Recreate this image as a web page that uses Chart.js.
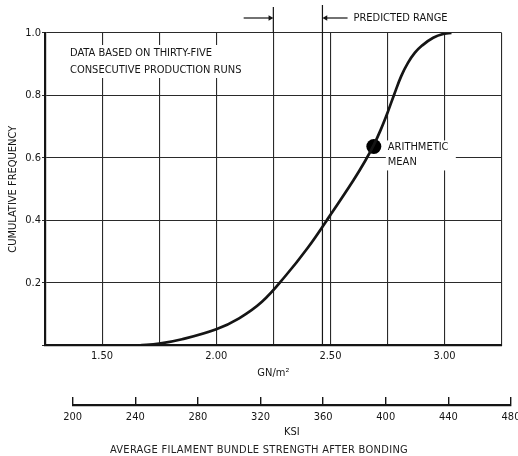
<!DOCTYPE html>
<html lang="en">
<head>
<meta charset="UTF-8">
<title>Filament bundle strength after bonding</title>
<script src="https://cdn.jsdelivr.net/npm/chart.js"></script>
<style>
  html, body { margin: 0; padding: 0; background: #fff; overflow: hidden; }
  body { width: 518px; height: 456px; position: relative; }
  #mainChart { position: absolute; left: 0; top: 0; }
  #ksiChart { position: absolute; left: 0; top: 380px; }
  #caption {
    position: absolute; left: 0; top: 443px; width: 518px; text-align: center;
    font: 11px 'Liberation Sans Narrow', 'DejaVu Sans Condensed', 'Arial Narrow', sans-serif;
    color: #222; line-height: 13px; letter-spacing: 0.3px;
  }
</style>
</head>
<body>

<canvas id="mainChart" width="518" height="385"></canvas>
<canvas id="ksiChart" width="540" height="76"></canvas>
<div id="caption">AVERAGE FILAMENT BUNDLE STRENGTH AFTER BONDING</div>

<script>
const FONT = "'Liberation Sans Narrow', 'DejaVu Sans Condensed', 'Arial Narrow', sans-serif";
const INK = "#151515";

// curve (GN/m^2 vs cumulative frequency)
const strength = [1.66, 1.75, 1.85, 2.00, 2.10, 2.20, 2.30, 2.40, 2.50, 2.60, 2.65, 2.69, 2.72, 2.75, 2.78, 2.81, 2.84, 2.87, 2.90, 2.95, 3.00, 3.03];
const cumFreq  = [0.000, 0.006, 0.020, 0.052, 0.087, 0.140, 0.220, 0.312, 0.418, 0.528, 0.588, 0.642, 0.690, 0.745, 0.805, 0.862, 0.905, 0.937, 0.959, 0.985, 0.998, 1.000];

const meanStrength = 2.69;
const meanFreq = 0.637;

const rangeLow = 2.25;
const rangeHigh = 2.465;

const gnTicks = [1.50, 2.00, 2.50, 3.00];
const freqTicks = [0.2, 0.4, 0.6, 0.8, 1.0];
const ksiTicks = [200, 240, 280, 320, 360, 400, 440, 480];

const noteLines = ["DATA BASED ON THIRTY-FIVE", "CONSECUTIVE PRODUCTION RUNS"];
const meanLines = ["ARITHMETIC", "MEAN"];

const isTick = (list, v) => list.some(t => Math.abs(t - v) < 1e-6);

const textPlugin = {
  id: "notes",
  beforeDatasetsDraw(chart) {
    const { ctx, chartArea, scales: { x, y } } = chart;
    ctx.save();
    ctx.font = "11px " + FONT;
    ctx.textBaseline = "middle";
    ctx.textAlign = "left";

    // note in the upper left corner
    const nx = chartArea.left + 25, ny = chartArea.top + 20;
    ctx.fillStyle = "#fff";
    ctx.fillRect(nx - 3, ny - 8, 178, 33);
    ctx.fillStyle = INK;
    noteLines.forEach((t, i) => ctx.fillText(t, nx, ny + i * 17));

    // arithmetic mean label
    const mx = x.getPixelForValue(meanStrength) + 14;
    const my = y.getPixelForValue(meanFreq) + 1;
    ctx.fillStyle = "#fff";
    ctx.fillRect(mx - 2, my - 7, 70, 30);
    ctx.fillStyle = INK;
    meanLines.forEach((t, i) => ctx.fillText(t, mx, my + i * 15));

    // predicted range label
    ctx.fillText("PREDICTED RANGE", x.getPixelForValue(rangeHigh) + 31, chartArea.top - 15);
    ctx.restore();
  },
  afterDatasetsDraw(chart) {
    // arrow heads sit outside the chart area, where the library skips points
    const ctx = chart.ctx;
    ctx.save();
    ctx.fillStyle = INK;
    ctx.strokeStyle = INK;
    const heads = [[4, 1, 90], [5, 0, -90]];
    heads.forEach(([ds, idx, rot]) => {
      const p = chart.getDatasetMeta(ds).data[idx];
      Chart.helpers.drawPoint(ctx, { pointStyle: "triangle", radius: 3.2, rotation: rot, borderWidth: 0 }, p.x, p.y);
    });
    ctx.restore();
  }
};

const arrowY = 1.048;
const lineStyle = { showLine: true, borderColor: INK, pointRadius: 0, clip: false };

new Chart(document.getElementById("mainChart"), {
  type: "scatter",
  data: {
    datasets: [
      { ...lineStyle, data: strength.map((v, i) => ({ x: v, y: cumFreq[i] })),
        borderWidth: 2.7, tension: 0.4, clip: true },
      { data: [{ x: meanStrength, y: meanFreq }], pointRadius: 7.5,
        backgroundColor: "#000", borderWidth: 0 },
      { ...lineStyle, data: [{ x: rangeHigh, y: 0 }, { x: rangeHigh, y: 1.09 }], borderWidth: 1.2 },
      { ...lineStyle, data: [{ x: rangeLow, y: 1 }, { x: rangeLow, y: 1.083 }], borderWidth: 1.2 },
      { ...lineStyle, data: [{ x: 2.12, y: arrowY }, { x: rangeLow - 0.014, y: arrowY }], borderWidth: 1.2 },
      { ...lineStyle, data: [{ x: rangeHigh + 0.014, y: arrowY }, { x: 2.575, y: arrowY }], borderWidth: 1.2 }
    ]
  },
  options: {
    responsive: false,
    animation: false,
    events: [],
    layout: { padding: { top: 33, right: 16.3, left: 0, bottom: 0 } },
    plugins: { legend: { display: false }, tooltip: { enabled: false } },
    scales: {
      x: {
        type: "linear", min: 1.25, max: 3.25,
        afterFit: s => { s.height = 39.5; },
        ticks: { stepSize: 0.25, autoSkip: false, maxRotation: 0, padding: 4, color: INK,
                 font: { family: FONT, size: 11 },
                 callback: v => isTick(gnTicks, v) ? v.toFixed(2) : "" },
        grid: { color: "#2a2a2a", lineWidth: 1.1, drawTicks: false },
        border: { color: INK, width: 2.2 },
        title: { display: true, text: "GN/m²", color: INK, font: { family: FONT, size: 11 },
                 padding: { top: 0, bottom: 5.4 } }
      },
      y: {
        min: 0, max: 1,
        afterFit: s => { s.width = 45; },
        ticks: { stepSize: 0.2, padding: 1, color: INK, font: { family: FONT, size: 11 },
                 callback: v => isTick(freqTicks, v) ? v.toFixed(1) : "" },
        grid: { color: "#2a2a2a", lineWidth: 1.1, tickLength: 3 },
        border: { color: INK, width: 2.2 },
        title: { display: true, text: "CUMULATIVE FREQUENCY", color: INK,
                 font: { family: FONT, size: 11 }, padding: { top: 6.4, bottom: 0 } }
      }
    }
  },
  plugins: [textPlugin]
});

// KSI ruler below the main plot
new Chart(document.getElementById("ksiChart"), {
  type: "scatter",
  data: { datasets: [] },
  options: {
    responsive: false,
    animation: false,
    events: [],
    layout: { padding: { top: 17, left: 72.7, right: 29, bottom: 0 } },
    plugins: { legend: { display: false }, tooltip: { enabled: false } },
    scales: {
      x: {
        type: "linear", min: ksiTicks[0], max: ksiTicks[ksiTicks.length - 1],
        afterBuildTicks: s => { s.ticks = ksiTicks.map(v => ({ value: v })); },
        afterFit: s => { s.height = 51; },
        ticks: { autoSkip: false, maxRotation: 0, padding: 6, color: INK,
                 font: { family: FONT, size: 11 } },
        grid: { color: INK, lineWidth: 1.4, drawTicks: false, drawOnChartArea: true },
        border: { color: INK, width: 2.2 },
        title: { display: true, text: "KSI", color: INK, font: { family: FONT, size: 11 },
                 padding: { top: 0, bottom: 17.7 } }
      },
      y: { display: false, min: 0, max: 1 }
    }
  }
});
</script>

</body>
</html>
